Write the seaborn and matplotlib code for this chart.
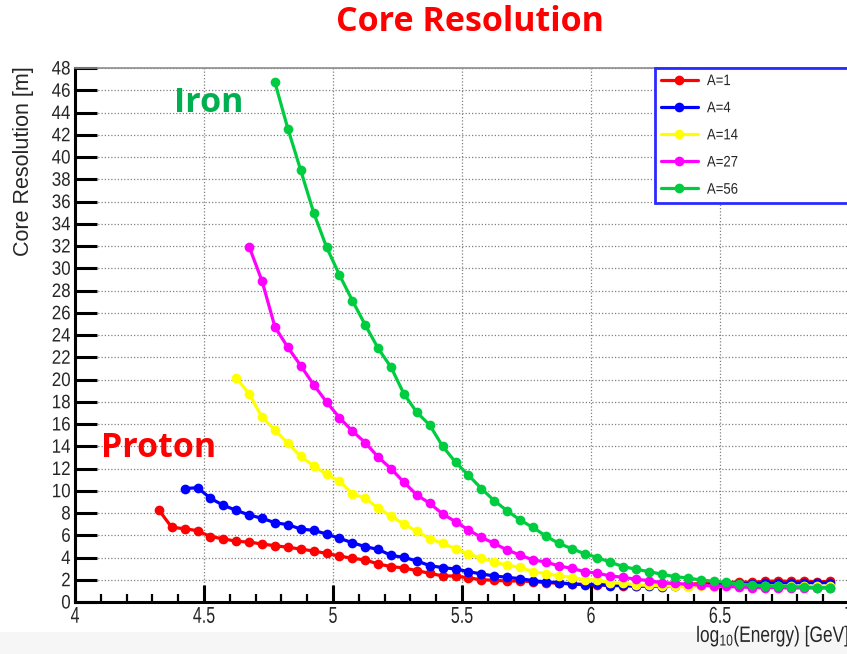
import numpy as np
import pandas as pd
import matplotlib
matplotlib.use("Agg")
import matplotlib.pyplot as plt
from matplotlib.lines import Line2D
from matplotlib.patches import Rectangle
from matplotlib.ticker import MultipleLocator
from matplotlib.transforms import Affine2D
from matplotlib.patheffects import AbstractPathEffect
import seaborn as sns

# log10(E/GeV) bin centres shared by all primaries
energy_bins = np.round(np.arange(4.325, 6.93, 0.05), 3)

species = ["A=1", "A=4", "A=14", "A=27", "A=56"]
colors = ["#ff0000", "#0000ff", "#ffff00", "#ff00ff", "#00cc40"]

# first bin index of each series
first_bin = {"A=1": 0, "A=4": 2, "A=14": 6, "A=27": 7, "A=56": 9}

res_a1 = [8.27, 6.71, 6.59, 6.41, 5.87, 5.69, 5.45, 5.39, 5.21, 5.06, 4.92, 4.76,
          4.58, 4.37, 4.13, 3.93, 3.78, 3.42, 3.18, 3.06, 2.82, 2.58, 2.34, 2.34,
          2.16, 2.01, 1.95, 1.89, 1.89, 1.83, 1.74, 1.68, 1.62, 1.58, 1.55, 1.50,
          1.48, 1.45, 1.50, 1.52, 1.55, 1.60, 1.65, 1.70, 1.75, 1.80, 1.78, 1.85,
          1.90, 1.85, 1.88, 1.82, 1.85]
res_a4 = [10.19, 10.28, 9.32, 8.69, 8.24, 7.82, 7.52, 7.13, 6.95, 6.56, 6.44, 6.11,
          5.72, 5.33, 4.97, 4.73, 4.19, 4.01, 3.69, 3.27, 3.09, 2.97, 2.73, 2.52,
          2.34, 2.22, 2.10, 1.92, 1.80, 1.74, 1.62, 1.55, 1.60, 1.45, 1.50, 1.40,
          1.45, 1.38, 1.45, 1.40, 1.50, 1.55, 1.60, 1.62, 1.65, 1.70, 1.72, 1.70,
          1.75, 1.72, 1.75]
res_a14 = [20.16, 18.70, 16.60, 15.46, 14.26, 13.08, 12.24, 11.48, 10.85, 9.74, 9.32, 8.45,
           7.70, 7.01, 6.35, 5.69, 5.27, 4.79, 4.31, 3.93, 3.62, 3.30, 3.12, 2.73,
           2.55, 2.37, 2.20, 2.00, 1.98, 1.74, 1.68, 1.53, 1.50, 1.45, 1.40, 1.35,
           1.40, 1.38, 1.42, 1.40, 1.45, 1.42, 1.45, 1.40, 1.42, 1.40, 1.42]
res_a27 = [31.94, 28.85, 24.72, 22.89, 21.24, 19.53, 17.98, 16.57, 15.37, 14.32, 13.03, 11.98,
           10.76, 9.62, 8.87, 7.91, 7.22, 6.47, 5.81, 5.27, 4.67, 4.22, 3.78, 3.60,
           3.24, 3.03, 2.73, 2.58, 2.34, 2.22, 2.04, 1.92, 1.74, 1.68, 1.59, 1.53,
           1.45, 1.40, 1.35, 1.30, 1.28, 1.30, 1.25, 1.28, 1.25, 1.28]
res_a56 = [46.70, 42.55, 38.80, 35.00, 31.90, 29.40, 27.10, 24.90, 22.80, 21.10, 18.70, 17.05,
           15.90, 14.00, 12.56, 11.40, 10.20, 9.10, 8.20, 7.37, 6.70, 5.93, 5.27, 4.80,
           4.34, 4.00, 3.57, 3.18, 2.94, 2.73, 2.49, 2.28, 2.16, 1.98, 1.86, 1.77,
           1.59, 1.53, 1.44, 1.44, 1.38, 1.35, 1.29, 1.29]

resolution = {"A=1": res_a1, "A=4": res_a4, "A=14": res_a14,
              "A=27": res_a27, "A=56": res_a56}

frames = []
for name in species:
    vals = resolution[name]
    i0 = first_bin[name]
    frames.append(pd.DataFrame({"logE": energy_bins[i0:i0 + len(vals)],
                                "res": vals, "A": name}))
df = pd.concat(frames, ignore_index=True)


class Condensed(AbstractPathEffect):
    """Squeeze glyphs horizontally (along the text direction) about an anchor."""

    def __init__(self, sx, anchor="center"):
        super().__init__()
        self.sx = sx
        self.anchor = anchor

    def draw_path(self, renderer, gc, tpath, affine, rgbFace=None):
        ext = tpath.get_extents()
        ref = {"left": ext.x0, "right": ext.x1}.get(self.anchor, 0.5 * (ext.x0 + ext.x1))
        squeeze = Affine2D().translate(-ref, 0).scale(self.sx, 1.0).translate(ref, 0)
        renderer.draw_path(gc, tpath, squeeze + affine, rgbFace)


sns.set_style("white")
plt.rcParams["font.family"] = ["Liberation Sans", "DejaVu Sans"]
plt.rcParams["mathtext.fontset"] = "custom"
plt.rcParams["mathtext.rm"] = "Liberation Sans"

W, H = 847, 654
fig = plt.figure(figsize=(W / 100, H / 100), dpi=100)
fig.patch.set_facecolor("white")
fig.add_artist(Rectangle((0, 0), 1, 22 / H, transform=fig.transFigure,
                         facecolor="#f6f6f6", edgecolor="none", zorder=0))

ax = fig.add_axes([75 / W, 52 / H, 774 / W, 534 / H])
ax.set_facecolor("white")

sns.lineplot(data=df, x="logE", y="res", hue="A", hue_order=species,
             palette=colors, marker="o", markersize=7, markeredgewidth=0,
             linewidth=2.3, sort=False, legend=False, ax=ax, zorder=3)

ax.set_xlim(4, 7)
ax.set_ylim(0, 48)
ax.xaxis.set_minor_locator(MultipleLocator(0.1))
ax.yaxis.set_major_locator(MultipleLocator(2))
ax.set_xticks([4, 4.5, 5, 5.5, 6, 6.5, 7])
ax.set_xticklabels(["4", "4.5", "5", "5.5", "6", "6.5", "7"])
ax.set_xlabel("")
ax.set_ylabel("")

ax.grid(True, which="major", linestyle=(0, (1, 1.6)), color="#808080", linewidth=0.9)
ax.set_axisbelow(True)

for side in ("left", "bottom"):
    ax.spines[side].set_color("black")
    ax.spines[side].set_linewidth(2.2)
ax.spines["top"].set_color("#8c8c8c")
ax.spines["top"].set_linewidth(1.2)
ax.spines["right"].set_visible(False)

ax.tick_params(axis="y", which="major", direction="in", length=16, width=2.2,
               labelsize=14, pad=3, color="black", left=True, right=False)
ax.tick_params(axis="x", which="major", direction="in", length=12, width=2.2,
               labelsize=16.5, pad=2, color="black", bottom=True, top=False)
ax.tick_params(axis="x", which="minor", direction="in", length=6, width=1.6,
               color="black", bottom=True, top=False)

for lab in ax.get_yticklabels():
    lab.set_path_effects([Condensed(0.87, "right")])
for lab in ax.get_xticklabels():
    lab.set_path_effects([Condensed(0.7, "center")])

handles = [Line2D([], [], color=c, marker="o", markersize=7, markeredgewidth=0,
                  linewidth=2.3, label=n) for n, c in zip(species, colors)]
leg = ax.legend(handles=handles, loc="upper left",
                bbox_to_anchor=(580 / 774, 401 / 534, 210 / 774, 133 / 534),
                mode="expand", borderaxespad=0, fontsize=11, frameon=True,
                fancybox=False, framealpha=1, handlelength=2.4, handletextpad=0.6,
                labelspacing=0.86, borderpad=0.4)
leg.get_frame().set_edgecolor("#2a2aff")
leg.get_frame().set_linewidth(2)
for t in leg.get_texts():
    t.set_path_effects([Condensed(0.86, "left")])

fig.text(470 / W, 1 - 22 / H, "Core Resolution", color="#ff0000", fontsize=24.5,
         fontweight="bold", family=["Open Sans", "DejaVu Sans"], ha="center", va="center")
fig.text(209 / W, 1 - 103 / H, "Iron", color="#00b050", fontsize=24.5,
         fontweight="bold", family=["Open Sans", "DejaVu Sans"], ha="center", va="center")
fig.text(159 / W, 1 - 448 / H, "Proton", color="#ff0000", fontsize=24.5,
         fontweight="bold", family=["Open Sans", "DejaVu Sans"], ha="center", va="center")

fig.text(23 / W, 1 - 66 / H, "Core Resolution [m]", rotation=90, fontsize=15.5,
         ha="center", va="top")
xlab = fig.text(850 / W, 1 - 642 / H, r"log$_{10}$(Energy) [GeV]", fontsize=16,
                ha="right", va="baseline")
xlab.set_path_effects([Condensed(0.78, "right")])

fig.savefig("out.png", dpi=100)
